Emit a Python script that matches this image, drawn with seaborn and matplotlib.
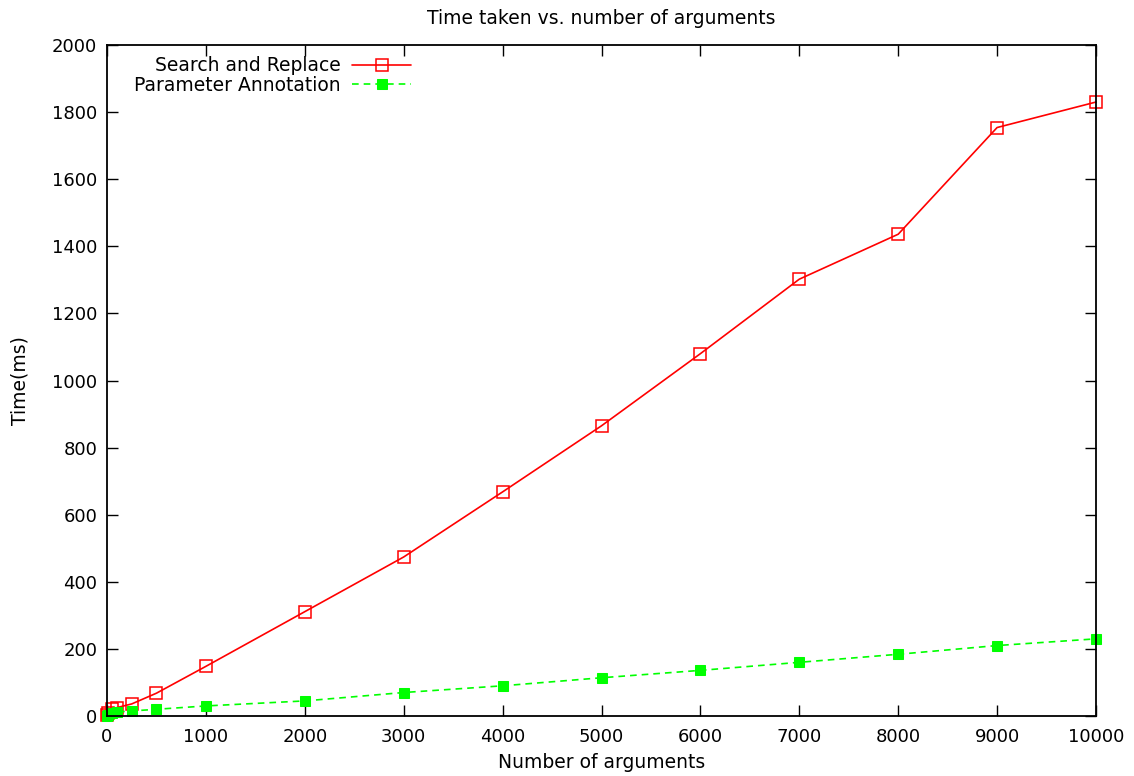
import matplotlib
matplotlib.use("Agg")
import matplotlib.pyplot as plt
import seaborn as sns
import pandas as pd

args = [1, 10, 50, 100, 250, 500, 1000, 2000, 3000, 4000, 5000, 6000, 7000, 8000, 9000, 10000]
search_replace = [3, 10, 20, 25, 36, 68, 148, 311, 474, 668, 865, 1080, 1302, 1436, 1754, 1830]
param_annot = [1, 3, 8, 12, 15, 20, 30, 45, 70, 90, 114, 136, 160, 184, 210, 230]
series_names = ["Search and Replace", "Parameter Annotation"]
xticks = list(range(0, 10001, 1000))
yticks = list(range(0, 2001, 200))

sns.set_style("ticks")
plt.rcParams['font.family'] = ['DejaVu Sans']
plt.rcParams['text.color'] = 'black'
plt.rcParams['axes.labelcolor'] = 'black'

fig = plt.figure(figsize=(11.34, 7.76), dpi=100)
ax = fig.add_axes([107/1134, 60/776, (1096-107)/1134, (716-45)/776])

df = pd.DataFrame({"x": args, "sr": search_replace, "pa": param_annot})
sns.lineplot(data=df, x="x", y="sr", ax=ax, color="#ff0000", linewidth=1.2,
             marker="s", markersize=8, markerfacecolor="none", markeredgecolor="#ff0000",
             markeredgewidth=1.1, label=series_names[0], clip_on=False)
sns.lineplot(data=df, x="x", y="pa", ax=ax, color="#00ff00", linewidth=1.2,
             linestyle=(0, (4, 3)), marker="s", markersize=7, markerfacecolor="#00ff00",
             markeredgecolor="#00ff00", label=series_names[1], clip_on=False)

ax.set_xlim(0, 10000)
ax.set_ylim(0, 2000)
ax.set_xticks(xticks)
ax.set_yticks(yticks)
ax.tick_params(direction="in", length=8, width=1, top=True, right=True,
               labelsize=13, colors="black")
ax.tick_params(axis="x", pad=9)
ax.tick_params(axis="y", pad=7)
for s in ax.spines.values():
    s.set_visible(True)
    s.set_linewidth(1.3)
    s.set_color("black")
ax.set_xlabel("Number of arguments", fontsize=13.5, labelpad=5)
ax.set_ylabel("Time(ms)", fontsize=13.5, labelpad=16)
ax.set_title("Time taken vs. number of arguments", fontsize=13.5, pad=15)

leg = ax.legend(loc="upper right", bbox_to_anchor=(0.307, 0.983), frameon=False,
                markerfirst=False, fontsize=13.5, handlelength=3.1, handletextpad=0.65,
                borderaxespad=0.0, borderpad=0.0, labelspacing=0.02)

fig.savefig("out.png", dpi=100)
